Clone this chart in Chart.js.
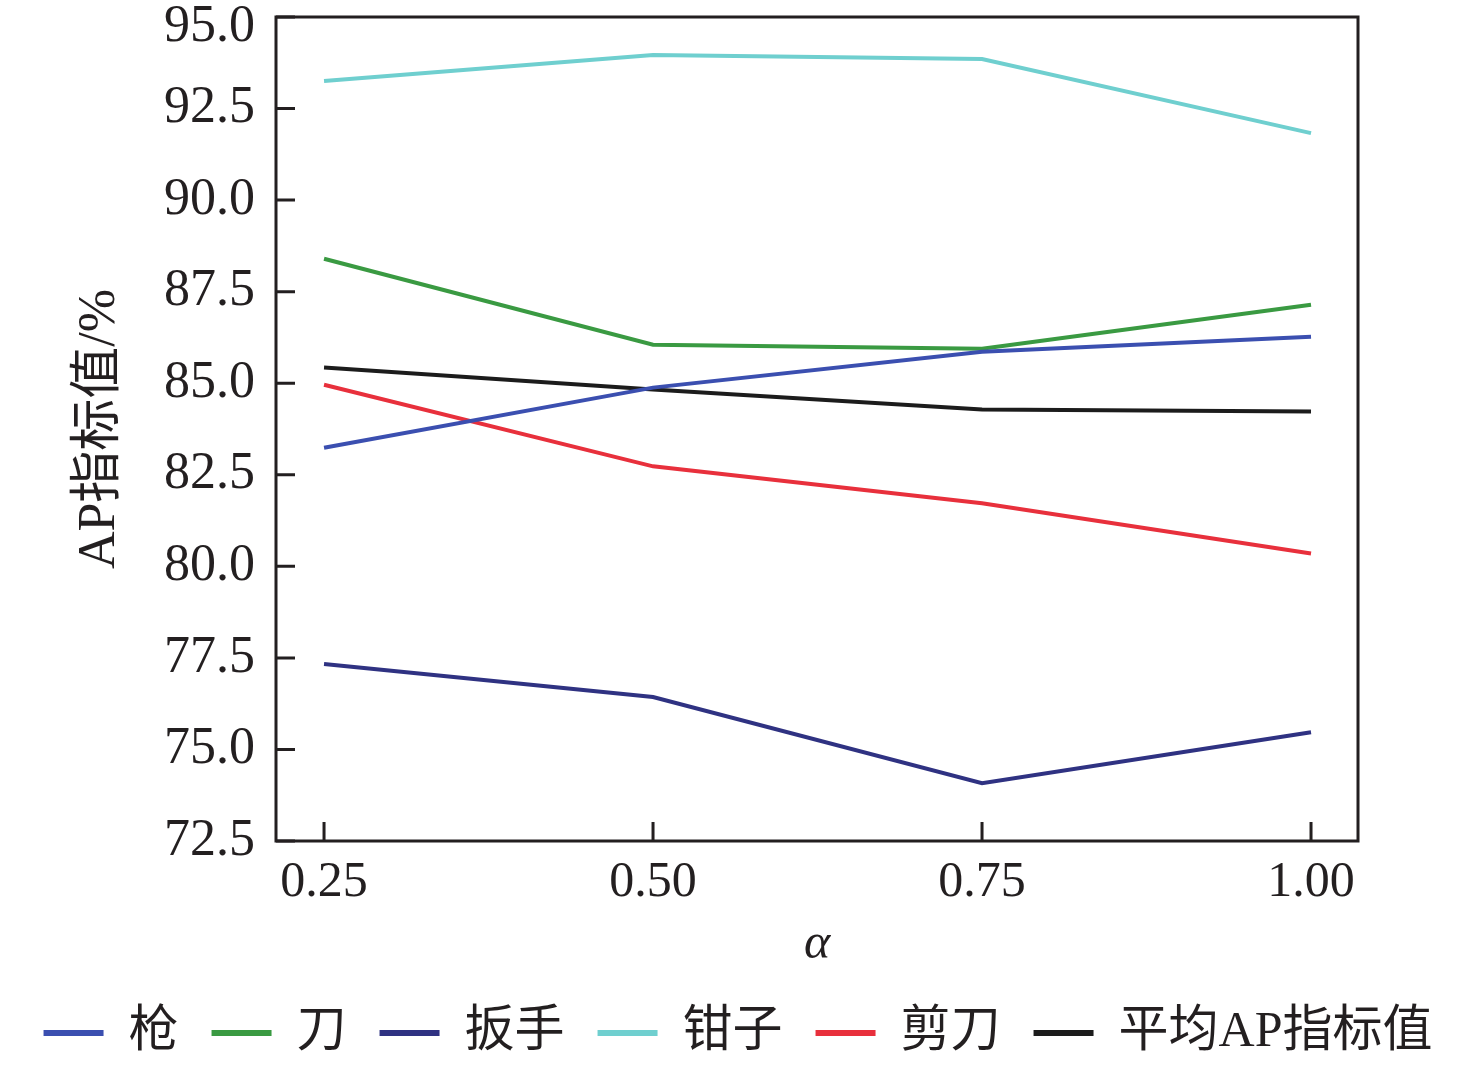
<!DOCTYPE html>
<html>
<head>
<meta charset="utf-8">
<script src="https://cdn.jsdelivr.net/npm/chart.js@4.4.1/dist/chart.umd.min.js"></script>
<style>
  html, body { margin: 0; padding: 0; background: #fff; }
  canvas { display: block; }
</style>
</head>
<body>
<canvas id="chart" width="1476" height="1068"></canvas>
<script>
// values
const alphas = [0.25, 0.50, 0.75, 1.00];
const xTickLabels = ["0.25", "0.50", "0.75", "1.00"];
const seriesNames = ["枪", "刀", "扳手", "钳子", "剪刀", "平均AP指标值"];
const gun      = [83.24, 84.88, 85.86, 86.27];
const knife    = [88.40, 86.05, 85.94, 87.14];
const wrench   = [77.33, 76.43, 74.08, 75.47];
const pliers   = [93.25, 93.96, 93.85, 91.83];
const scissors = [84.96, 82.73, 81.72, 80.35];
const meanAP   = [85.43, 84.83, 84.28, 84.23];
const yTicks = [72.5, 75.0, 77.5, 80.0, 82.5, 85.0, 87.5, 90.0, 92.5, 95.0];

const colors = ["#3b4fb0", "#3a9a42", "#2f3282", "#6fcfcf", "#e8303c", "#1c1c1c"];
const allSeries = [gun, knife, wrench, pliers, scissors, meanAP];

const serif = "'Liberation Serif', 'Times New Roman', 'Noto Sans CJK SC', serif";
const axisColor = "#231f20";
const yMax = yTicks[yTicks.length - 1];

// frame around plot area + inward tick marks
const frameTicks = {
    id: "frameTicks",
    afterDraw(chart) {
        const { ctx, chartArea: a, scales } = chart;
        ctx.save();
        ctx.strokeStyle = axisColor;
        ctx.lineWidth = 3;
        ctx.strokeRect(a.left, a.top, a.right - a.left, a.bottom - a.top);
        ctx.beginPath();
        scales.x.ticks.forEach(t => {
            const px = scales.x.getPixelForValue(t.value);
            ctx.moveTo(px, a.bottom);
            ctx.lineTo(px, a.bottom - 19);
        });
        scales.y.ticks.forEach(t => {
            const py = scales.y.getPixelForValue(t.value);
            ctx.moveTo(a.left, py);
            ctx.lineTo(a.left + 19, py);
        });
        ctx.stroke();
        ctx.restore();
    }
};

new Chart(document.getElementById("chart").getContext("2d"), {
    type: "line",
    data: {
        datasets: seriesNames.map((name, i) => ({
            label: name,
            data: alphas.map((a, j) => ({ x: a, y: allSeries[i][j] })),
            borderColor: colors[i],
            backgroundColor: colors[i],
            borderWidth: 4,
            pointRadius: 0,
            tension: 0,
        })),
    },
    options: {
        responsive: false,
        devicePixelRatio: 1,
        animation: false,
        layout: { padding: 0 },
        plugins: {
            tooltip: { enabled: false },
            legend: {
                position: "bottom",
                labels: {
                    font: { family: serif, size: 50 },
                    color: "#231f20",
                    boxWidth: 60,
                    boxHeight: 6,
                    padding: 33,
                    generateLabels(chart) {
                        return Chart.defaults.plugins.legend.labels.generateLabels(chart)
                            .map(l => ({ ...l, lineWidth: 0 }));
                    },
                },
            },
        },
        scales: {
            x: {
                type: "linear",
                min: 0.2135,
                max: 1.0357,
                afterBuildTicks(scale) {
                    scale.ticks = alphas.map(v => ({ value: v }));
                },
                afterFit(scale) { scale.height = 134; },
                ticks: {
                    callback: (v) => xTickLabels[alphas.indexOf(v)],
                    font: { family: serif, size: 50 },
                    color: "#231f20",
                    padding: 12,
                    maxRotation: 0,
                },
                grid: { display: false, drawTicks: false },
                border: { display: false },
                title: {
                    display: true,
                    text: "α",
                    font: { family: serif, size: 50, style: "italic" },
                    color: "#231f20",
                    padding: { top: 0, bottom: 0 },
                },
            },
            y: {
                min: 72.5,
                max: yMax,
                afterBuildTicks(scale) {
                    scale.ticks = yTicks.map(v => ({ value: v }));
                },
                afterFit(scale) {
                    scale.width = 276;
                    scale.paddingTop = 17;
                },
                ticks: {
                    // top label sits a little below its tick so it is not cut off
                    callback: (v) => v === yMax ? ["", v.toFixed(1)] : v.toFixed(1),
                    font: (c) => ({
                        family: serif,
                        size: 52,
                        lineHeight: c.tick && c.tick.value === yMax ? 0.4 : 1.2,
                    }),
                    color: "#231f20",
                    padding: 21,
                },
                grid: { display: false, drawTicks: false },
                border: { display: false },
                title: {
                    display: true,
                    text: "AP指标值/%",
                    font: { family: serif, size: 52 },
                    color: "#231f20",
                    padding: { top: 69, bottom: 0 },
                },
            },
            // empty right-hand axis that only reserves the margin right of the frame
            yRight: {
                axis: "y",
                position: "right",
                min: 72.5,
                max: yMax,
                afterFit(scale) { scale.width = 118; },
                ticks: { display: false },
                grid: { display: false, drawTicks: false },
                border: { display: false },
            },
        },
    },
    plugins: [frameTicks],
});
</script>
</body>
</html>
